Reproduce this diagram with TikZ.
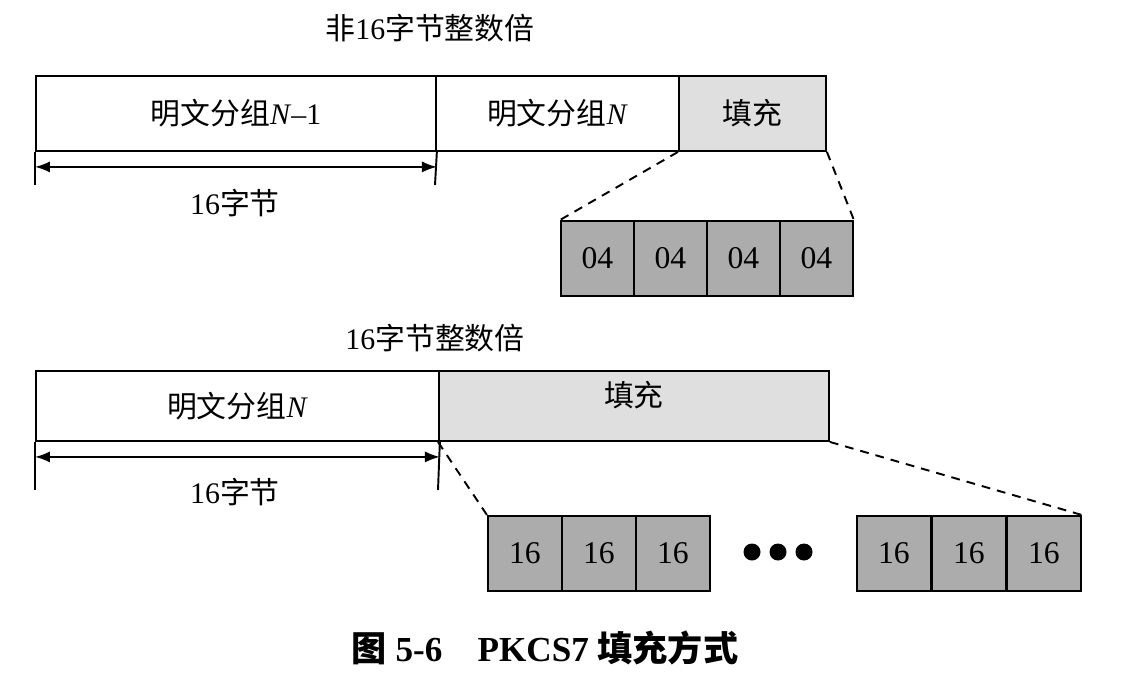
\documentclass[tikz,border=0pt]{standalone}
\usepackage{fontspec}
\setmainfont{Liberation Serif}
\newfontfamily\cjk{Noto Sans CJK SC}
\usepackage{tikz}
\usetikzlibrary{arrows.meta, calc}
\tikzstyle{plain} = [rectangle, draw, line width=1.1pt, fill=white, inner sep=0pt]
\tikzstyle{pad} = [rectangle, draw, line width=1.1pt, fill=gray!25, inner sep=0pt]
\tikzstyle{byte} = [rectangle, draw, line width=1.1pt, fill=gray!65, inner sep=0pt,
    minimum width=1.46cm, minimum height=1.5cm, font=\fontsize{18}{20}\selectfont]
\tikzstyle{span} = [draw, line width=1.1pt, {Latex[length=3mm]}-{Latex[length=3mm]}]
\tikzstyle{zoom} = [draw, line width=1.1pt, dash pattern=on 5pt off 4pt]
\tikzstyle{lbl} = [font=\fontsize{17}{20}\selectfont]

\begin{document}
\begin{tikzpicture}[x=0.02cm, y=-0.02cm, lbl]
    \useasboundingbox (0,0) rectangle (1125,673);
    % Top: not a multiple of 16 bytes
    \node [lbl] (title1) at (430,28) {{\cjk 非}16{\cjk 字节整数倍}};
    \node [plain, minimum width=8cm, minimum height=1.5cm, anchor=north west] (blockA) at (35,75) {{\cjk 明文分组}\textit{N}–1};
    \node [plain, minimum width=4.86cm, minimum height=1.5cm, anchor=north west] (blockB) at (435,75) {{\cjk 明文分组}\textit{N}};
    \node [pad, minimum width=2.94cm, minimum height=1.5cm, anchor=north west] (fillA) at (678,75) {\cjk 填充};
    \coordinate (tA1) at (35,185);
    \coordinate (tA2) at (435,185);
    \draw [line width=1.1pt] (blockA.south west) -- (tA1);
    \draw [line width=1.1pt] (blockA.south east) -- (tA2);
    \path [span] ($(blockA.south west)+(0,15)$) -- ($(blockA.south east)+(0,15)$);
    \node [lbl] (lenA) at (235,203) {16{\cjk 字节}};
    \foreach \i/\x in {1/560,2/633,3/706,4/779}
        \node [byte, anchor=north west] (a\i) at (\x,220) {04};
    \path [zoom] (fillA.south west) -- (a1.north west);
    \path [zoom] (fillA.south east) -- (a4.north east);

    % Bottom: multiple of 16 bytes
    \node [lbl] (title2) at (435,338) {16{\cjk 字节整数倍}};
    \node [plain, minimum width=8.06cm, minimum height=1.4cm, anchor=north west] (blockC) at (35,370) {{\cjk 明文分组}\textit{N}};
    \node [pad, minimum width=7.8cm, minimum height=1.4cm, anchor=north west] (fillB) at (438,370) {\raisebox{0.5cm}{\cjk 填充}};
    \coordinate (tC1) at (35,490);
    \coordinate (tC2) at (438,490);
    \draw [line width=1.1pt] (blockC.south west) -- (tC1);
    \draw [line width=1.1pt] (blockC.south east) -- (tC2);
    \path [span] ($(blockC.south west)+(0,15)$) -- ($(blockC.south east)+(0,15)$);
    \node [lbl] (lenC) at (235,492) {16{\cjk 字节}};
    \foreach \i/\x in {1/487,2/561,3/635,4/856,5/931,6/1006}
        \node [byte, minimum width=1.48cm, anchor=north west] (b\i) at (\x,515) {16};
    \foreach \i/\x in {1/752,2/778,3/804}
        \fill (\x,552) circle (0.17cm);
    \path [zoom] (fillB.south west) -- (b1.north west);
    \path [zoom] (fillB.south east) -- (b6.north east);

    % Caption
    \node [font=\fontsize{20}{24}\selectfont\bfseries] (caption) at (545,648) {{\cjk 图} 5-6\quad PKCS7 {\cjk 填充方式}};
\end{tikzpicture}
\end{document}
